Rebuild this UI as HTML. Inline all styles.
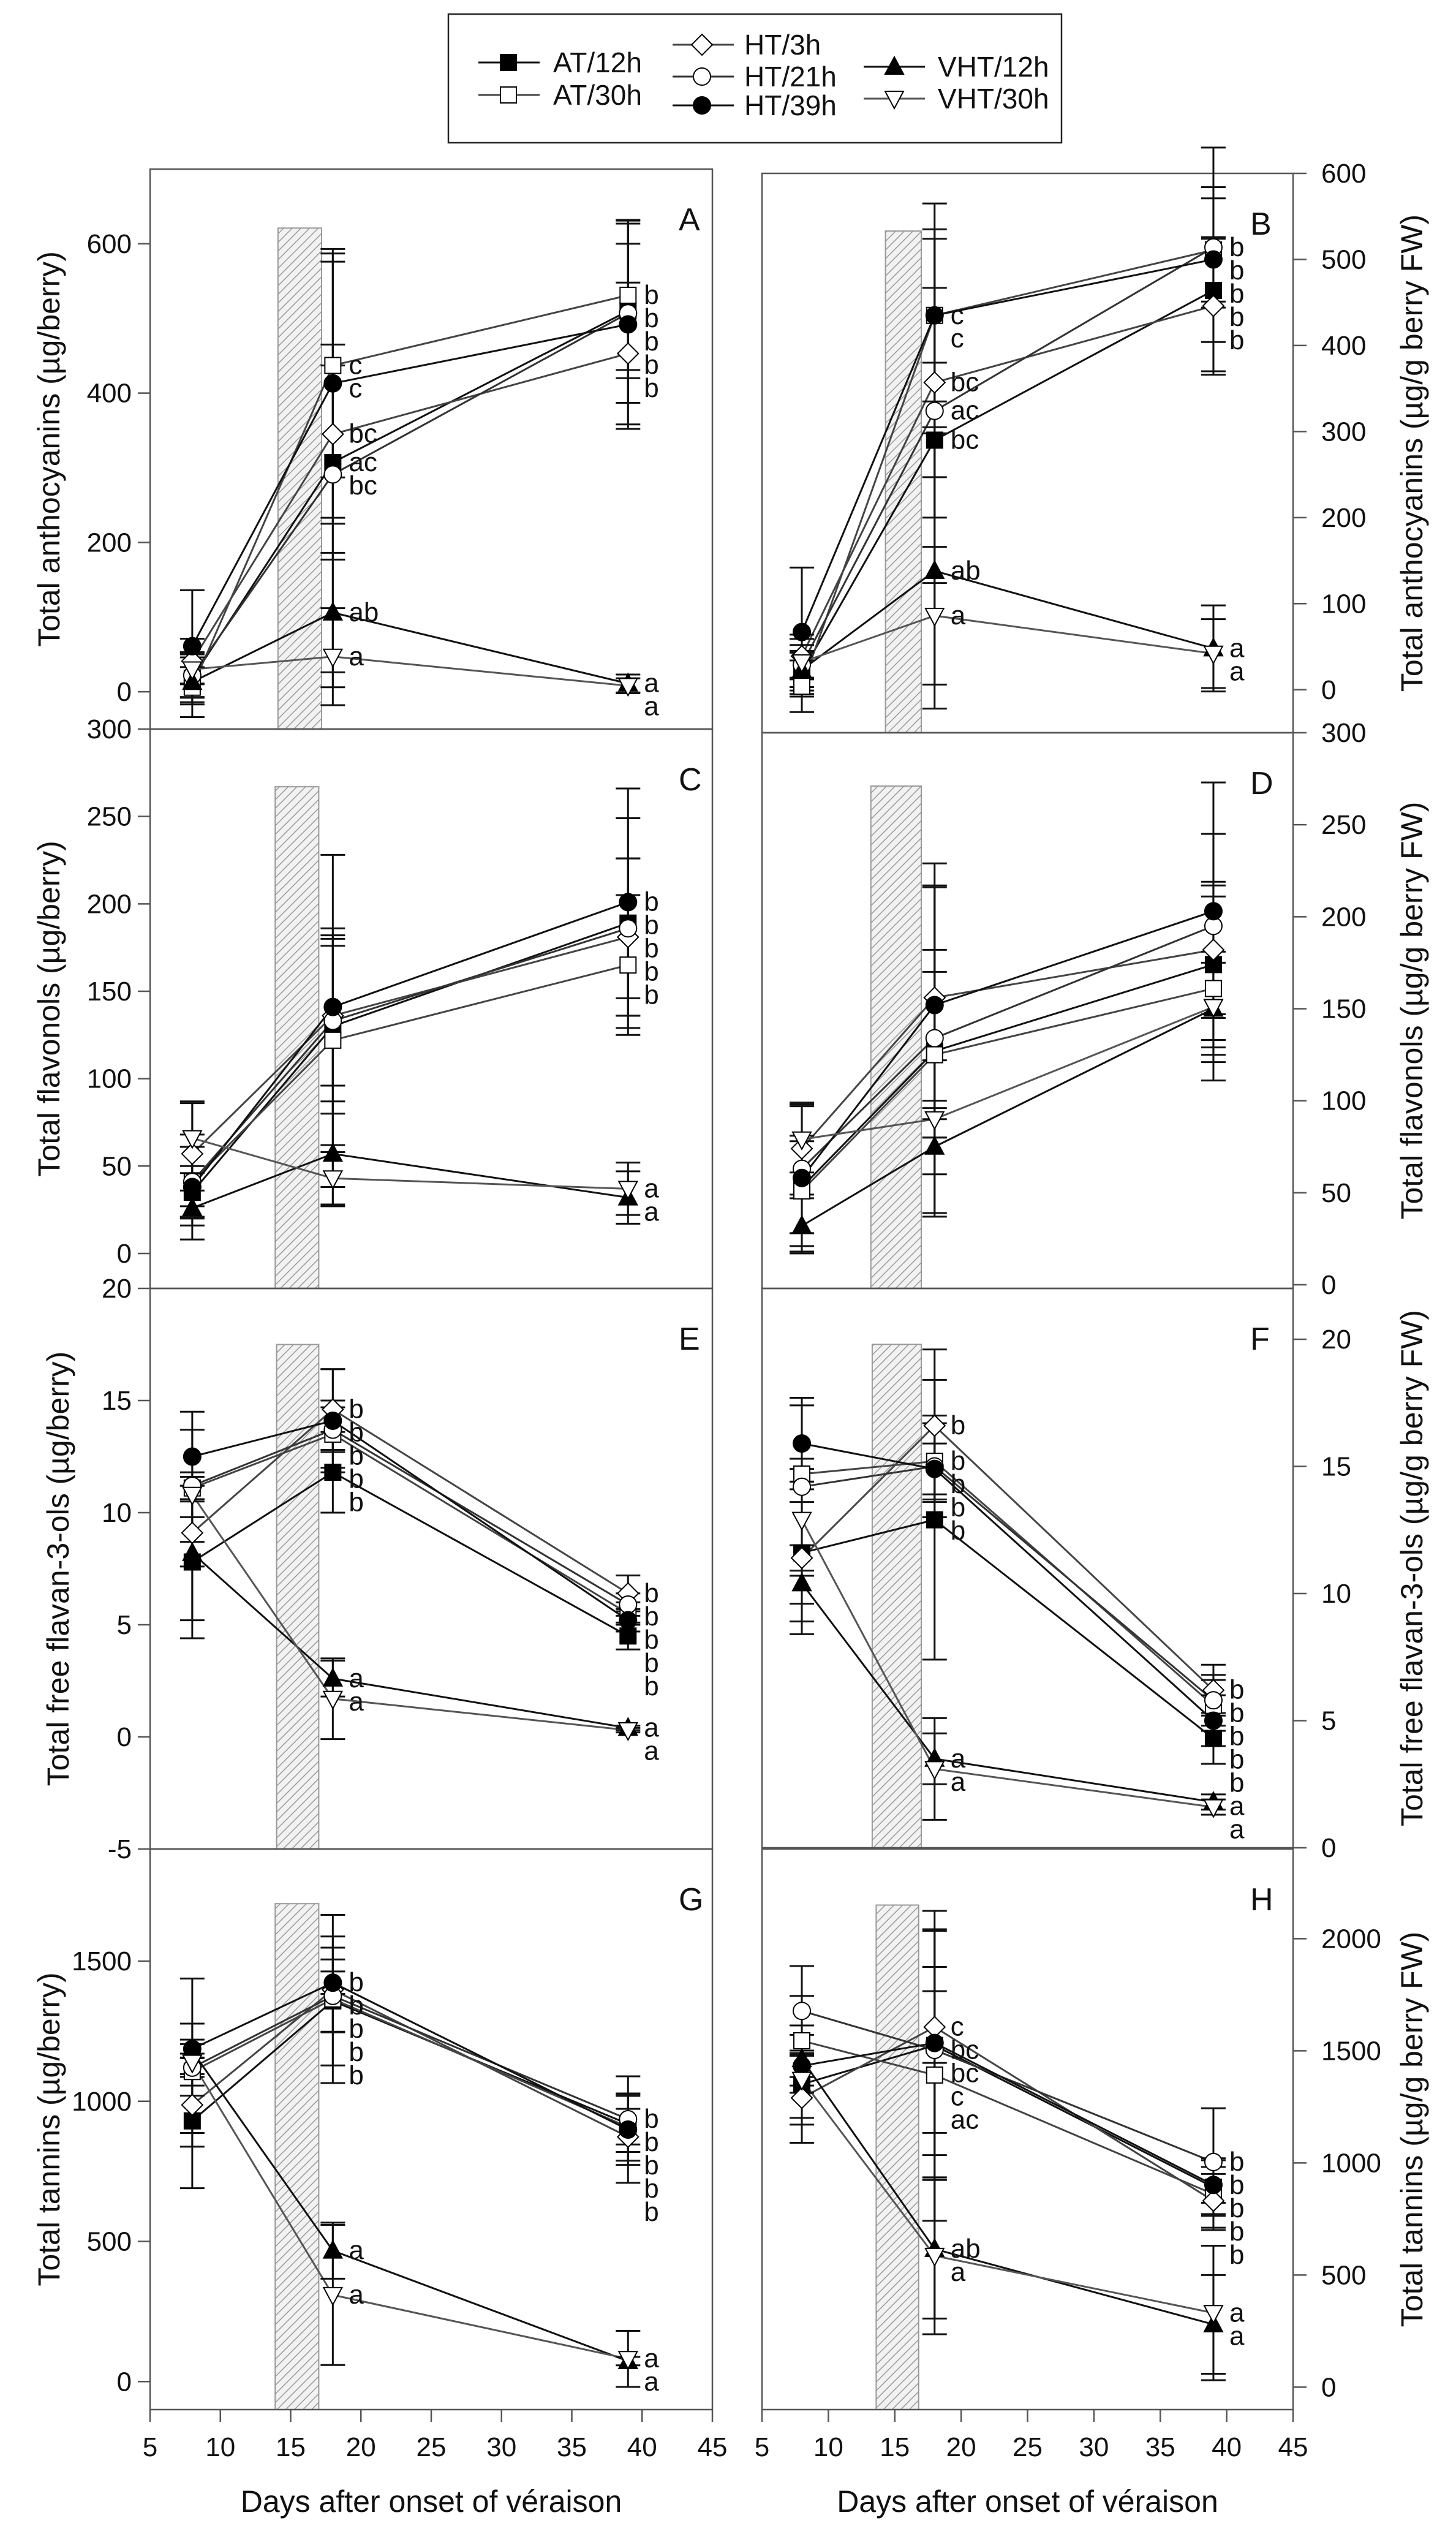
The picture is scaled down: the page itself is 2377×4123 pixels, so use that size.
<!DOCTYPE html>
<html><head><meta charset="utf-8"><title>Phenolics vs days after veraison</title>
<style>
html,body{margin:0;padding:0;background:#fff;}
svg{display:block;}
text{font-family:"Liberation Sans",Arial,sans-serif;fill:#111;}
</style></head>
<body>
<svg id="fig" xmlns="http://www.w3.org/2000/svg" width="2377" height="4123" viewBox="0 0 2377 4123">
<defs>
<pattern id="hatch" patternUnits="userSpaceOnUse" width="10" height="10" patternTransform="rotate(45)">
<rect width="10" height="10" fill="#f2f2f2"/><line x1="0" y1="0" x2="0" y2="10" stroke="#9a9a9a" stroke-width="3"/>
</pattern>
</defs>
<g id="legend"></g>
<g id="panels"></g>
</svg>
<script>
const days = [8, 18, 39];
const seriesNames = ["AT/12h","AT/30h","HT/3h","HT/21h","HT/39h","VHT/12h","VHT/30h"];
// order: AT/12h, AT/30h, HT/3h, HT/21h, HT/39h, VHT/12h, VHT/30h
const valsA = [[18,307,510],[6,437,531],[41,345,453],[22,291,507],[61,413,492],[13,106,11],[30,47,8]];
const errsA = [[35,130,90],[40,150,100],[30,120,95],[30,285,120],[75,180,140],[20,80,12],[20,65,10]];
const letA  = [["","ac","b"],["","c","b"],["","bc","b"],["","bc","b"],["","c","b"],["","ab","a"],["","a","a"]];
const valsB = [[20,290,464],[4,435,511],[39,357,446],[29,324,514],[67,435,500],[23,138,48],[32,86,42]];
const errsB = [[25,90,60],[30,130,60],[25,110,80],[30,200,70],[75,100,130],[20,160,50],[20,80,40]];
const letB  = [["","bc","b"],["","c","b"],["","bc","b"],["","ac","b"],["","c","b"],["","ab","a"],["","a","a"]];
const valsC = [[35,130,189],[41,122,165],[57,136,181],[41,133,186],[38,141,201],[26,57,32],[66,43,37]];
const errsC = [[15,50,60],[20,60,40],[30,40,45],[20,95,40],[30,45,65],[10,30,15],[20,15,15]];
const letC  = [["","","b"],["","","b"],["","","b"],["","","b"],["","","b"],["","","a"],["","","a"]];
const valsD = [[53,127,174],[51,125,161],[74,156,182],[63,134,195],[58,152,203],[32,75,150],[79,90,151]];
const errsD = [[25,90,45],[30,45,50],[25,60,35],[35,95,50],[40,30,70],[15,15,25],[18,10,30]];
const letD  = [["","",""],["","",""],["","",""],["","",""],["","",""],["","",""],["","",""]];
const valsE = [[7.8,11.8,4.5],[11.1,13.5,5.5],[9.1,14.6,6.4],[11.2,13.7,5.9],[12.5,14.1,5.2],[8.2,2.6,0.4],[10.8,1.7,0.3]];
const errsE = [[3.4,1.8,0.6],[0.5,1.5,0.5],[1.5,1.8,0.8],[2.5,1,0.5],[2,2.3,0.5],[3,0.8,0.1],[1,1.8,0.1]];
const letE  = [["","b","b"],["","b","b"],["","b","b"],["","b","b"],["","b","b"],["","a","a"],["","a","a"]];
const valsF = [[11.6,12.9,4.3],[14.7,15.2,5.6],[11.4,16.6,6.2],[14.2,15.0,5.8],[15.9,14.9,5.0],[10.4,3.5,1.8],[12.9,3.1,1.6]];
const errsF = [[2,5.5,1],[0.6,1.5,1],[3,3,1],[3.5,2,1],[1.5,1,1],[1.5,1,0.3],[2,2,0.3]];
const letF  = [["","b","b"],["","b","b"],["","b","b"],["","b","b"],["","b","b"],["","a","a"],["","a","a"]];
const valsG = [[930,1358,919],[1106,1365,908],[987,1398,873],[1120,1376,936],[1187,1423,899],[1179,467,73],[1138,309,81]];
const errsG = [[240,230,100],[50,300,120],[100,150,100],[100,130,90],[90,40,190],[25,100,15],[300,250,100]];
const letG  = [["","b","b"],["","b","b"],["","b","b"],["","b","b"],["","b","b"],["","a","a"],["","a","a"]];
const valsH = [[1351,1524,892],[1545,1392,861],[1290,1606,831],[1678,1504,1004],[1433,1535,902],[1463,616,280],[1371,586,331]];
const errsH = [[150,600,120],[200,650,160],[200,160,120],[200,370,240],[50,500,80],[150,310,220],[200,350,300]];
const letH  = [["","bc","b"],["","ac","b"],["","c","b"],["","c","b"],["","bc","b"],["","ab","a"],["","a","a"]];
const leftTicksA = [0,200,400,600];
const leftTicksC = [0,50,100,150,200,250,300];
const leftTicksE = [-5,0,5,10,15,20];
const leftTicksG = [0,500,1000,1500];
const rightTicksB = [0,100,200,300,400,500,600];
const rightTicksD = [0,50,100,150,200,250,300];
const rightTicksF = [0,5,10,15,20];
const rightTicksH = [0,500,1000,1500,2000];
const xTicks = [5,10,15,20,25,30,35,40,45];

const NS = "http://www.w3.org/2000/svg";
const svg = document.getElementById('fig');
const panelsG = document.getElementById('panels');
function mk(tag, attrs, parent){const e=document.createElementNS(NS,tag);for(const k in attrs)e.setAttribute(k,attrs[k]);(parent||svg).appendChild(e);return e;}

const lineColors = ["#111","#444","#444","#333","#111","#111","#555"];
function marker(g, i, cx, cy){
  let m;
  const fillB = (i===0||i===4||i===5) ? "#000" : "#fff";
  if(i===0||i===1){ m=mk('rect',{x:cx-13,y:cy-13,width:26,height:26,fill:fillB,stroke:"#000","stroke-width":2},g); }
  else if(i===2){ m=mk('polygon',{points:`${cx},${cy-17} ${cx+17},${cy} ${cx},${cy+17} ${cx-17},${cy}`,fill:fillB,stroke:"#000","stroke-width":2},g); }
  else if(i===3||i===4){ m=mk('circle',{cx:cx,cy:cy,r:14,fill:fillB,stroke:"#000","stroke-width":2},g); }
  else if(i===5){ m=mk('polygon',{points:`${cx},${cy-16} ${cx+15},${cy+12} ${cx-15},${cy+12}`,fill:fillB,stroke:"#000","stroke-width":2},g); }
  else { m=mk('polygon',{points:`${cx},${cy+16} ${cx+15},${cy-12} ${cx-15},${cy-12}`,fill:fillB,stroke:"#000","stroke-width":2},g); }
  return m;
}

const panels = [
 {id:"A",x0:245,x1:1163,y0:276,y1:1190,ymin:-50,ymax:700,vals:valsA,errs:errsA,lets:letA,ticks:leftTicksA,side:"left",hatch:[14.1,17.2,621],title:"Total anthocyanins (\u00b5g/berry)"},
 {id:"B",x0:1244,x1:2111,y0:283,y1:1196,ymin:-50,ymax:600,vals:valsB,errs:errsB,lets:letB,ticks:rightTicksB,side:"right",hatch:[14.3,17.0,533],title:"Total anthocyanins (\u00b5g/g berry FW)"},
 {id:"C",x0:245,x1:1163,y0:1190,y1:2103,ymin:-20,ymax:300,vals:valsC,errs:errsC,lets:letC,ticks:leftTicksC,side:"left",hatch:[13.9,17.0,267],title:"Total flavonols (\u00b5g/berry)"},
 {id:"D",x0:1244,x1:2111,y0:1196,y1:2103,ymin:-2,ymax:300,vals:valsD,errs:errsD,lets:letD,ticks:rightTicksD,side:"right",hatch:[13.2,17.0,271],title:"Total flavonols (\u00b5g/g berry FW)"},
 {id:"E",x0:245,x1:1163,y0:2103,y1:3018,ymin:-5,ymax:20,vals:valsE,errs:errsE,lets:letE,ticks:leftTicksE,side:"left",hatch:[14.0,17.0,17.5],title:"Total free flavan-3-ols (\u00b5g/berry)"},
 {id:"F",x0:1244,x1:2111,y0:2103,y1:3016,ymin:0,ymax:22,vals:valsF,errs:errsF,lets:letF,ticks:rightTicksF,side:"right",hatch:[13.3,17.0,19.8],title:"Total free flavan-3-ols (\u00b5g/g berry FW)"},
 {id:"G",x0:245,x1:1163,y0:3018,y1:3933,ymin:-100,ymax:1900,vals:valsG,errs:errsG,lets:letG,ticks:leftTicksG,side:"left",hatch:[13.9,17.0,1705],title:"Total tannins (\u00b5g/berry)",xaxis:true},
 {id:"H",x0:1244,x1:2111,y0:3018,y1:3933,ymin:-100,ymax:2400,vals:valsH,errs:errsH,lets:letH,ticks:rightTicksH,side:"right",hatch:[13.6,16.8,2150],title:"Total tannins (\u00b5g/g berry FW)",xaxis:true}
];

panels.forEach(p=>{
  const g = mk('g',{},panelsG);
  
  
  const X = d => p.x0 + (d-5)/(45-5)*(p.x1-p.x0);
  const Y = v => p.y1 - (v-p.ymin)/(p.ymax-p.ymin)*(p.y1-p.y0);
  // hatch bar
  const hb = mk('rect',{x:X(p.hatch[0]),y:Y(p.hatch[2]),width:X(p.hatch[1])-X(p.hatch[0]),height:p.y1-Y(p.hatch[2]),fill:"url(#hatch)",stroke:"#999","stroke-width":2},g);
  
  
  // frame
  const fr = mk('rect',{x:p.x0,y:p.y0,width:p.x1-p.x0,height:p.y1-p.y0,fill:"none",stroke:"#555","stroke-width":2.5},g);
  
  
  // y ticks
  const ax = p.side==="left"? p.x0 : p.x1;
  p.ticks.forEach(t=>{
    const y = Y(t);
    if(p.side==="left"){
      mk('line',{x1:ax-20,x2:ax,y1:y,y2:y,stroke:"#555","stroke-width":2.5},g);
      const tx = mk('text',{x:ax-30,y:y+15,"text-anchor":"end","font-size":44},g);
      tx.textContent=t;
      
      
    } else {
      mk('line',{x1:ax,x2:ax+22,y1:y,y2:y,stroke:"#555","stroke-width":2.5},g);
      const tx = mk('text',{x:ax+46,y:y+15,"text-anchor":"start","font-size":44},g);
      tx.textContent=t;
      
      
    }
  });
  // y title
  const cy = (p.y0+p.y1)/2;
  const tcx = p.side==="left" ? (p.id==="E"?95:80) : 2305;
  const tt = mk('text',{x:tcx,y:cy,"text-anchor":"middle","font-size":50,transform:`rotate(-90 ${tcx} ${cy}) translate(0 17)`},g);
  tt.textContent = p.title;
  
  
  // panel letter
  const pl = mk('text',{x:p.x1-(p.side==="left"?55:70),y:p.y0+100,"font-size":52},g);
  pl.textContent = p.id;
  
  
  // lines
  p.vals.forEach((s,i)=>{
    const pts = s.map((v,k)=>X(days[k])+","+Y(v)).join(" ");
    const pl2 = mk('polyline',{points:pts,fill:"none",stroke:lineColors[i],"stroke-width":3},g);
    
    
  });
  // error bars
  p.vals.forEach((s,i)=>{
    s.forEach((v,k)=>{
      const x = X(days[k]), e = p.errs[i][k];
      const yt = Y(v+e), yb = Y(v-e);
      const eb = mk('path',{d:`M${x},${yt}V${yb}M${x-20},${yt}H${x+20}M${x-20},${yb}H${x+20}`,stroke:"#111","stroke-width":3,fill:"none"},g);
      
      
    });
  });
  // markers
  p.vals.forEach((s,i)=>{
    s.forEach((v,k)=>{
      const m = marker(g,i,X(days[k]),Y(v));
      
      
    });
  });
  // significance letters
  [1,2].forEach(k=>{
    const items = p.vals.map((s,i)=>({v:s[k],l:p.lets[i][k]})).filter(o=>o.l);
    items.sort((a,b)=>b.v-a.v);
    let last = -1e9;
    items.forEach(o=>{
      let y = Y(o.v)+14;
      if(y < last+38) y = last+38;
      last = y;
      const lt = mk('text',{x:X(days[k])+26,y:y,"font-size":44},g);
      lt.textContent = o.l;
      
      
    });
  });
  // x axis
  if(p.xaxis){
    xTicks.forEach(t=>{
      const x = X(t);
      mk('line',{x1:x,x2:x,y1:p.y1,y2:p.y1+20,stroke:"#555","stroke-width":2.5},g);
      const xt = mk('text',{x:x,y:p.y1+76,"text-anchor":"middle","font-size":44},g);
      xt.textContent = t;
      
      
    });
    const xtitle = mk('text',{x:(p.x0+p.x1)/2,y:4100,"text-anchor":"middle","font-size":50},g);
    xtitle.textContent = "Days after onset of v\u00e9raison";
    
    
  }
});

// legend
const lg = document.getElementById('legend');
mk('rect',{x:732,y:23,width:1001,height:210,fill:"#fff",stroke:"#222","stroke-width":2.5},lg);
const legItems = [
 {i:0,lx:781,mx:830,y:102,tx:903},{i:1,lx:781,mx:830,y:155,tx:903},
 {i:2,lx:1098,mx:1146,y:73,tx:1215},{i:3,lx:1098,mx:1146,y:125,tx:1215},{i:4,lx:1098,mx:1146,y:172,tx:1215},
 {i:5,lx:1410,mx:1460,y:109,tx:1531},{i:6,lx:1410,mx:1460,y:161,tx:1531}
];
legItems.forEach(o=>{
  const eg = mk('g',{},lg);
  
  
  mk('line',{x1:o.lx,x2:o.lx+100,y1:o.y,y2:o.y,stroke:lineColors[o.i],"stroke-width":3},eg);
  marker(eg,o.i,o.mx,o.y);
  const t = mk('text',{x:o.tx,y:o.y+16,"font-size":46},eg);
  t.textContent = seriesNames[o.i];
});
</script>
</body></html>
